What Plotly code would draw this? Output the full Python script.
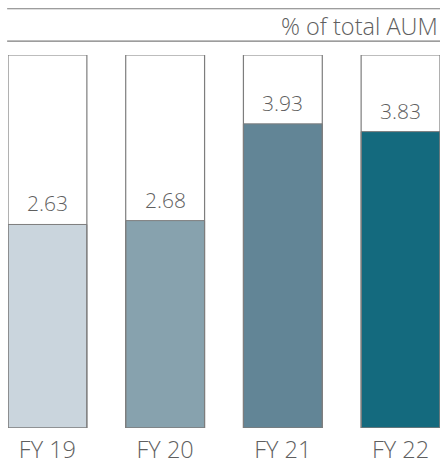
import plotly.graph_objects as go

categories = ["FY 19", "FY 20", "FY 21", "FY 22"]
values = [2.63, 2.68, 3.93, 3.83]
value_labels = ["2.63", "2.68", "3.93", "3.83"]
bar_colors = ["#CAD5DD", "#87A2AE", "#628596", "#146A7E"]
unit_label = "% of total AUM"

Y_MAX = 4.82
xs = list(range(len(categories)))
FONT = "Open Sans"
TXT = "#5f5f5f"
EDGE = "#7d7d7d"

fig = go.Figure()
fig.add_trace(go.Bar(
    x=xs, y=values, width=0.67,
    marker=dict(color=bar_colors, line=dict(color=EDGE, width=1)),
    hoverinfo="skip",
))
fig.add_trace(go.Bar(
    x=xs, y=[Y_MAX] * len(xs), width=0.67,
    marker=dict(color="rgba(0,0,0,0)", line=dict(color=EDGE, width=1.2)),
    hoverinfo="skip",
))

for x, v, t in zip(xs, values, value_labels):
    fig.add_annotation(x=x, y=v, text=t, showarrow=False, yanchor="bottom",
                       yshift=5, font=dict(family=FONT, size=21, color=TXT, weight=300))

fig.add_shape(type="line", xref="paper", yref="paper", x0=-0.002, x1=1.0,
              y0=1.124, y1=1.124, line=dict(color=EDGE, width=1.2))
fig.add_shape(type="line", xref="paper", yref="paper", x0=-0.002, x1=1.0,
              y0=1.037, y1=1.037, line=dict(color=EDGE, width=1.2))
fig.add_annotation(xref="paper", yref="paper", x=1.0, y=1.079, text=unit_label,
                   showarrow=False, xanchor="right", yanchor="middle",
                   font=dict(family=FONT, size=23.5, color=TXT, weight=300))

fig.update_layout(
    width=441, height=466,
    margin=dict(l=8, r=1, t=55, b=32),
    barmode="overlay",
    showlegend=False,
    plot_bgcolor="white", paper_bgcolor="white",
    xaxis=dict(range=[-0.335, 3.335], tickvals=xs, ticktext=categories,
               showgrid=False, zeroline=False, showline=False, ticks="",
               ticklabelstandoff=5,
               tickfont=dict(family=FONT, size=23.5, color=TXT, weight=300)),
    yaxis=dict(range=[0, Y_MAX], visible=False),
)

fig.write_html("out.html", config={"displayModeBar": False},
               post_script="document.body.style.margin='0';document.body.style.overflow='hidden';")
